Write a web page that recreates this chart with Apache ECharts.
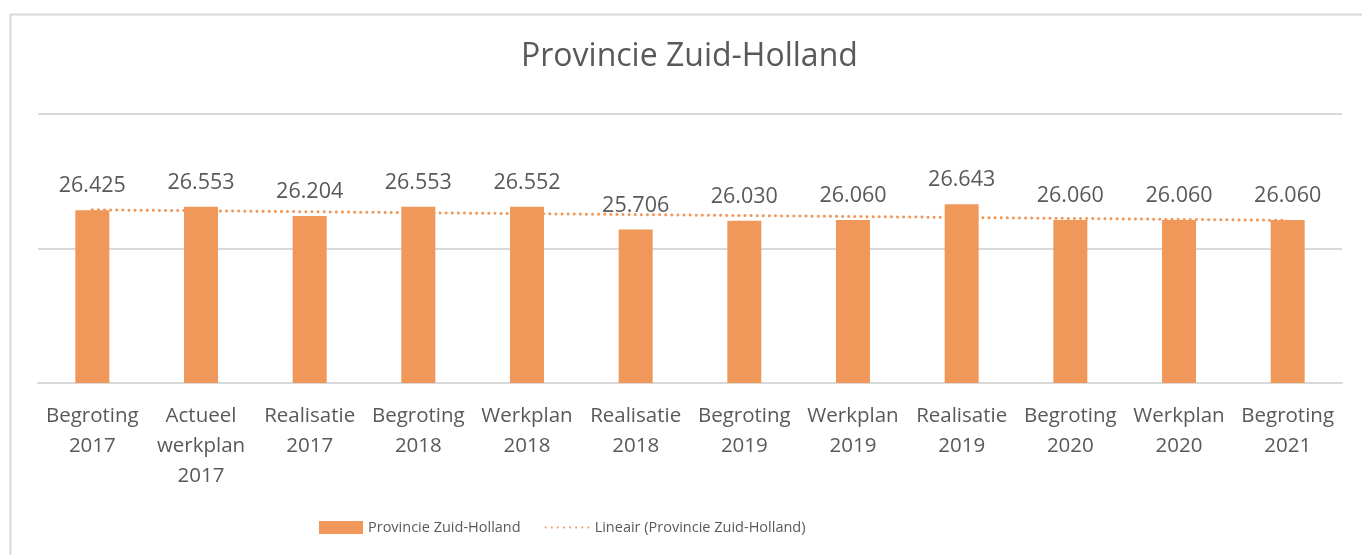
<!DOCTYPE html>
<html>
<head>
<meta charset="utf-8">
<script src="https://cdn.jsdelivr.net/npm/echarts@6/dist/echarts.min.js"></script>
<style>
  html, body { margin: 0; padding: 0; background: #fff; }
  #chart { width: 1362px; height: 555px; }
</style>
</head>
<body>
<div id="chart"></div>
<script>
const categories = [
  'Begroting\n2017', 'Actueel\nwerkplan\n2017', 'Realisatie\n2017', 'Begroting\n2018',
  'Werkplan\n2018', 'Realisatie\n2018', 'Begroting\n2019', 'Werkplan\n2019',
  'Realisatie\n2019', 'Begroting\n2020', 'Werkplan\n2020', 'Begroting\n2021'
];
const values = [26425, 26553, 26204, 26553, 26552, 25706, 26030, 26060, 26643, 26060, 26060, 26060];
// trend line: value at first and last category
const trend = [26438, null, null, null, null, null, null, null, null, null, null, 26047];

const textColor = '#595959';
const orange = '#F0975A';
const font = 'Open Sans';

// dutch thousands separator
const fmt = v => String(v).replace(/\B(?=(\d{3})+(?!\d))/g, '.');

const myChart = echarts.init(document.getElementById('chart'));

const option = {
  animation: false,
  textStyle: { fontFamily: font },
  title: {
    text: 'Provincie Zuid-Holland',
    left: 516,
    top: 36,
    textStyle: { color: textColor, fontSize: 32, fontWeight: 'normal', fontFamily: font }
  },
  graphic: [{
    type: 'rect',
    left: 8, top: 12,
    shape: { width: 1400, height: 600 },
    style: { fill: 'none', stroke: '#D9D9D9', lineWidth: 2 },
    silent: true
  }],
  legend: {
    bottom: 15,
    left: 314,
    itemGap: 24,
    itemWidth: 44,
    itemHeight: 13,
    textStyle: { color: textColor, fontSize: 14.5, fontFamily: font },
    data: [
      { name: 'Provincie Zuid-Holland', icon: 'rect' },
      { name: 'Lineair (Provincie Zuid-Holland)', itemStyle: { opacity: 0 } }
    ]
  },
  grid: { left: 38, right: 20, top: 114, bottom: 172 },
  xAxis: {
    type: 'category',
    data: categories,
    axisLine: { lineStyle: { color: '#D9D9D9', width: 2 } },
    axisTick: { show: false },
    axisLabel: {
      interval: 0,
      margin: 18,
      color: textColor,
      fontSize: 20.5,
      lineHeight: 30,
      fontFamily: font
    }
  },
  yAxis: {
    type: 'value',
    min: 20000,
    max: 30000,
    interval: 5000,
    axisLabel: { show: false },
    axisLine: { show: false },
    axisTick: { show: false },
    splitLine: { lineStyle: { color: '#D9D9D9', width: 2 } }
  },
  series: [
    {
      name: 'Provincie Zuid-Holland',
      type: 'bar',
      data: values,
      barWidth: 34,
      itemStyle: { color: orange },
      label: {
        show: true,
        position: 'top',
        distance: 13,
        color: textColor,
        fontSize: 21.5,
        fontFamily: font,
        formatter: p => fmt(p.value)
      }
    },
    {
      name: 'Lineair (Provincie Zuid-Holland)',
      type: 'line',
      data: trend,
      connectNulls: true,
      symbol: 'none',
      showSymbol: false,
      z: 5,
      lineStyle: { color: orange, width: 3, type: [0.1, 6], cap: 'round' },
      itemStyle: { color: orange }
    }
  ]
};

myChart.setOption(option);
</script>
</body>
</html>
